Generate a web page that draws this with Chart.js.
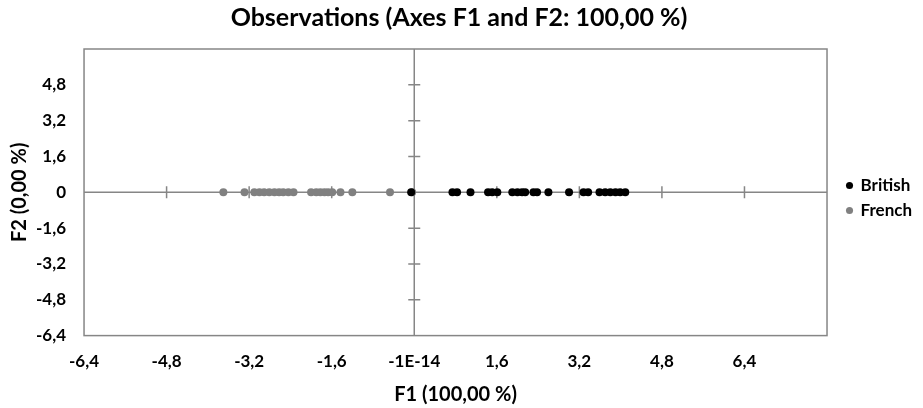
<!DOCTYPE html>
<html>
<head>
<meta charset="utf-8">
<script src="https://cdn.jsdelivr.net/npm/chart.js@4"></script>
<style>
  html, body { margin: 0; padding: 0; background: #fff; }
  #wrap { width: 923px; height: 408px; }
</style>
</head>
<body>
<div id="wrap"><canvas id="obsChart"></canvas></div>
<script>
const britishF1 = [-0.06, 0.74, 0.83, 1.09, 1.43, 1.51, 1.61, 1.90, 2.00, 2.09, 2.15, 2.31,
  2.38, 2.60, 3.00, 3.28, 3.37, 3.59, 3.70, 3.80, 3.90, 3.99, 4.09];
const britishF2 = [0, 0, 0, 0, 0, 0, 0, 0, 0, 0, 0, 0, 0, 0, 0, 0, 0, 0, 0, 0, 0, 0, 0];
const frenchF1 = [-3.70, -3.29, -3.10, -3.00, -2.91, -2.81, -2.71, -2.62, -2.54, -2.44, -2.34,
  -2.00, -1.90, -1.82, -1.74, -1.67, -1.59, -1.43, -1.20, -0.47, -0.04];
const frenchF2 = [0, 0, 0, 0, 0, 0, 0, 0, 0, 0, 0, 0, 0, 0, 0, 0, 0, 0, 0, 0, 0];

// axis ticks
const xTickValues = [-6.4, -4.8, -3.2, -1.6, 0, 1.6, 3.2, 4.8, 6.4, 8.0];
const xTickLabels = ['-6,4', '-4,8', '-3,2', '-1,6', '-1E-14', '1,6', '3,2', '4,8', '6,4', ''];
const yTickValues = [-6.4, -4.8, -3.2, -1.6, 0, 1.6, 3.2, 4.8, 6.4];
const yTickLabels = ['-6,4', '-4,8', '-3,2', '-1,6', '0', '1,6', '3,2', '4,8', ''];

const FONT = 'Lato, "Open Sans", sans-serif';
const GRAY_LINE = '#868686';

function toPoints(xs, ys) {
  return xs.map((x, i) => ({ x: x, y: ys[i] }));
}

// frame round the plot area and the two axes crossing at zero, with their tick marks
const crossAxes = {
  id: 'crossAxes',
  beforeDatasetsDraw(chart) {
    const { ctx, chartArea: a, scales: { x, y } } = chart;
    const x0 = x.getPixelForValue(0);
    const y0 = y.getPixelForValue(0);
    ctx.save();
    ctx.strokeStyle = GRAY_LINE;
    ctx.lineWidth = 1.5;
    ctx.strokeRect(a.left, a.top, a.right - a.left, a.bottom - a.top);
    ctx.beginPath();
    ctx.moveTo(a.left, y0); ctx.lineTo(a.right, y0);
    ctx.moveTo(x0, a.top); ctx.lineTo(x0, a.bottom);
    xTickValues.forEach(v => {
      if (v === 0 || v === xTickValues[0] || v === xTickValues[xTickValues.length - 1]) return;
      const px = x.getPixelForValue(v);
      ctx.moveTo(px, y0 - 6); ctx.lineTo(px, y0 + 6);
    });
    yTickValues.forEach(v => {
      if (v === 0 || v === yTickValues[0] || v === yTickValues[yTickValues.length - 1]) return;
      const py = y.getPixelForValue(v);
      ctx.moveTo(x0 - 6, py); ctx.lineTo(x0 + 6, py);
    });
    ctx.stroke();
    ctx.restore();
  }
};

// move the legend a little away from the plot, as in the original
const legendNudge = {
  id: 'legendNudge',
  afterLayout(chart) {
    const lg = chart.legend;
    lg.left += 12; lg.right += 12;
    lg.top -= 4; lg.bottom -= 4;
  }
};

function fixedTicks(values) {
  return scale => { scale.ticks = values.map(v => ({ value: v })); };
}

new Chart(document.getElementById('obsChart'), {
  type: 'scatter',
  data: {
    datasets: [
      {
        label: 'British',
        data: toPoints(britishF1, britishF2),
        backgroundColor: '#000000',
        borderColor: '#000000',
        pointRadius: 4,
        pointBorderWidth: 0
      },
      {
        label: 'French',
        data: toPoints(frenchF1, frenchF2),
        backgroundColor: '#808080',
        borderColor: '#808080',
        pointRadius: 4,
        pointBorderWidth: 0
      }
    ]
  },
  options: {
    responsive: true,
    maintainAspectRatio: false,
    animation: false,
    layout: { padding: { left: 8, right: 13, top: 0, bottom: 4 } },
    scales: {
      x: {
        type: 'linear',
        min: -6.4,
        max: 8.0,
        afterBuildTicks: fixedTicks(xTickValues),
        grid: { display: false, drawTicks: false },
        border: { display: false },
        ticks: {
          autoSkip: false,
          maxRotation: 0,
          padding: 16,
          color: '#000',
          font: { family: FONT, size: 17, weight: 'bold' },
          callback: (v, i) => xTickLabels[i]
        },
        title: {
          display: true,
          text: 'F1 (100,00 %)',
          color: '#000',
          // Chart.js reserves the tick padding twice; negative padding takes part of it back
          padding: { top: -5, bottom: -3 },
          font: { family: FONT, size: 20, weight: 'bold' }
        }
      },
      y: {
        type: 'linear',
        min: -6.4,
        max: 6.4,
        afterBuildTicks: fixedTicks(yTickValues),
        grid: { display: false, drawTicks: false },
        border: { display: false },
        ticks: {
          autoSkip: false,
          padding: 18,
          color: '#000',
          font: { family: FONT, size: 17, weight: 'bold' },
          callback: (v, i) => yTickLabels[i]
        },
        title: {
          display: true,
          text: 'F2 (0,00 %)',
          color: '#000',
          padding: { top: 0, bottom: -14 },
          font: { family: FONT, size: 20, weight: 'bold' }
        }
      }
    },
    plugins: {
      title: {
        display: true,
        text: 'Observations (Axes F1 and F2: 100,00 %)',
        color: '#000',
        padding: { top: 3, bottom: 16 },
        font: { family: FONT, size: 25, weight: 'bold' }
      },
      legend: {
        position: 'right',
        labels: {
          usePointStyle: true,
          pointStyle: 'circle',
          boxWidth: 5,
          boxHeight: 5,
          padding: 8,
          color: '#000',
          font: { family: FONT, size: 17, weight: 'bold' }
        }
      },
      tooltip: { enabled: false }
    }
  },
  plugins: [crossAxes, legendNudge]
});
</script>
</body>
</html>
